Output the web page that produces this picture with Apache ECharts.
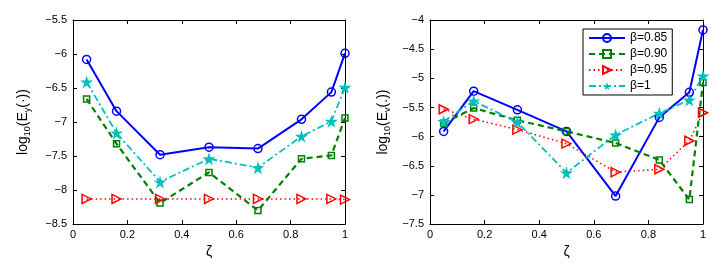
<!DOCTYPE html>
<html><head><meta charset="utf-8">
<script src="https://cdn.jsdelivr.net/npm/echarts@6/dist/echarts.min.js"></script>
<style>html,body{margin:0;padding:0;background:#fff}#c{width:719px;height:264px}</style>
</head><body><div id="c"></div>
<script>
const zeta = [0.05, 0.16, 0.32, 0.5, 0.68, 0.84, 0.95, 1.0];
const seriesNames = ['β=0.85', 'β=0.90', 'β=0.95', 'β=1'];
// Left panel: log10(Ey)
const leftB085 = [-6.08, -6.84, -7.48, -7.37, -7.39, -6.96, -6.56, -5.99];
const leftB090 = [-6.66, -7.32, -8.19, -7.74, -8.30, -7.54, -7.49, -6.94];
const leftB095 = [-8.13, -8.13, -8.13, -8.13, -8.13, -8.13, -8.13, -8.14];
const leftB1   = [-6.41, -7.16, -7.88, -7.54, -7.67, -7.21, -6.99, -6.49];
// Right panel: log10(Ev)
const rightB085 = [-5.91, -5.22, -5.54, -5.91, -7.02, -5.67, -5.24, -4.17];
const rightB090 = [-5.77, -5.51, -5.72, -5.91, -6.11, -6.40, -7.08, -5.07];
const rightB095 = [-5.53, -5.70, -5.88, -6.12, -6.61, -6.56, -6.07, -5.59];
const rightB1   = [-5.74, -5.39, -5.75, -6.62, -5.97, -5.60, -5.37, -4.96];

const star = 'path://M50,0 L61,35 L98,35 L68,57 L79,91 L50,70 L21,91 L32,57 L2,35 L39,35 Z';
const styles = [
  {color:'#0000ff', symbol:'circle', size:8, rot:0, line:{type:'solid', width:2}, fill:false},
  {color:'#008000', symbol:'rect', size:6, rot:0, line:{type:[6,4], width:2.2}, fill:false},
  {color:'#ff0000', symbol:'triangle', size:9, rot:-90, line:{type:[1.5,3], width:1.5}, fill:false},
  {color:'#00bfbf', symbol:star, size:13, rot:0, line:{type:[7,3,2,3], width:1.8}, fill:true}
];
const font = 'Liberation Sans, Arial, Helvetica, sans-serif';
const fmt = v => String(+v.toFixed(2)).replace('-', '\u2212');

function mk(name, data, st, xi, yi) {
  return {
    name, type:'line', xAxisIndex:xi, yAxisIndex:yi,
    data: zeta.map((z,i)=>[z, data[i]]),
    symbol: st.symbol, symbolSize: st.size, symbolRotate: st.rot,
    showAllSymbol:true,
    lineStyle:{color:st.color, width:st.line.width, type:st.line.type},
    itemStyle:{color: st.fill ? st.color : 'rgba(255,255,255,0)', borderColor: st.color, borderWidth: st.fill?0:1.5},
    z: 3
  };
}
const leftData = [leftB085, leftB090, leftB095, leftB1];
const rightData = [rightB085, rightB090, rightB095, rightB1];
const series = [];
leftData.forEach((d,i)=>series.push(mk(seriesNames[i], d, styles[i], 0, 0)));
rightData.forEach((d,i)=>series.push(mk(seriesNames[i], d, styles[i], 2, 2)));

function xAx(grid, pos, labels, name) {
  return {
    type:'value', gridIndex:grid, position:pos, min:0, max:1, interval:0.2,
    axisLine:{show:true, onZero:false, lineStyle:{color:'#000', width:1}},
    axisTick:{show:true, inside:true, length:4, lineStyle:{color:'#000'}},
    axisLabel:{show:labels, color:'#000', fontSize:11, fontFamily:font, margin:5, formatter: v=>String(+v.toFixed(1))},
    splitLine:{show:false},
    name: name||'', nameLocation:'middle', nameGap:16,
    nameTextStyle:{color:'#000', fontSize:14, fontFamily:font}
  };
}
function yAx(grid, pos, labels, min, max, name, gap) {
  return {
    type:'value', gridIndex:grid, position:pos, min, max, interval:0.5,
    axisLine:{show:true, onZero:false, lineStyle:{color:'#000', width:1}},
    axisTick:{show:true, inside:true, length:4, lineStyle:{color:'#000'}},
    axisLabel:{show:labels, color:'#000', fontSize:11, fontFamily:font, margin:6, formatter: fmt},
    splitLine:{show:false},
    name: name||'', nameLocation:'middle', nameGap:gap||0, nameRotate:90,
    nameTextStyle:{color:'#000', fontSize:14, fontFamily:font,
      rich:{sub:{fontSize:9, fontFamily:font, color:'#000', padding:[9,0,0,0]}}}
  };
}
const chart = echarts.init(document.getElementById('c'), null, {renderer:'canvas'});
chart.setOption({
  animation:false,
  backgroundColor:'#fff',
  grid:[
    {left:73, right:374, top:20, bottom:28},
    {left:430, right:16, top:20, bottom:28}
  ],
  xAxis:[
    xAx(0,'bottom',true,'ζ'), xAx(0,'top',false),
    xAx(1,'bottom',true,'ζ'), xAx(1,'top',false)
  ],
  yAxis:[
    yAx(0,'left',true,-8.5,-5.5,'log{sub|10}(E{sub|y}(·))',41), yAx(0,'right',false,-8.5,-5.5),
    yAx(1,'left',true,-7.5,-4,'log{sub|10}(E{sub|v}(.))',38), yAx(1,'right',false,-7.5,-4)
  ],
  legend:{
    data: seriesNames, orient:'vertical', left:583, top:29,
    itemWidth:36, itemHeight:10, itemGap:4, padding:[3,5,3,5],
    backgroundColor:'#fff', borderColor:'#000', borderWidth:1, borderRadius:0,
    textStyle:{color:'#000', fontSize:12, fontFamily:font},
    selectedMode:false
  },
  series
});
</script></body></html>
